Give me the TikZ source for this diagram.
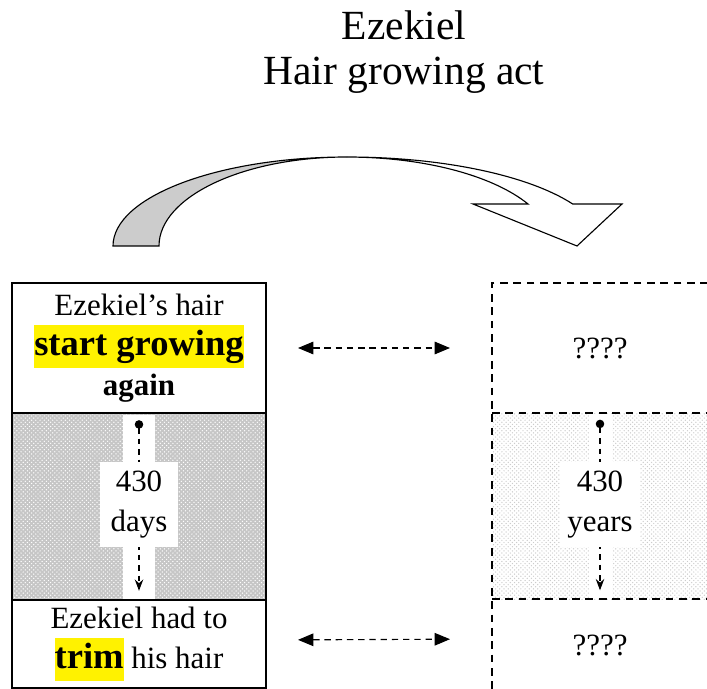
\documentclass[tikz,border=0pt]{standalone}
\usepackage{fontspec}
\setmainfont{Liberation Serif}
\usepackage{xcolor}
\usetikzlibrary{positioning,patterns,arrows.meta}

\newcommand{\hlword}[1]{{\setlength{\fboxsep}{0pt}\colorbox{yellow}{\fontsize{26}{31}\selectfont\bfseries\strut #1}}}

\begin{document}
\begin{tikzpicture}[font=\fontsize{22}{28.4}\selectfont, node distance=0pt]
\tikzset{
  box/.style={draw, thick, outer sep=0pt, minimum width=6.35cm, align=center},
  qbox/.style={outer sep=0pt, minimum width=5.4cm, align=center},
  qline/.style={thick, dash pattern=on 5.5pt off 4pt},
  strip/.style={fill=white, minimum width=#1, minimum height=4.6cm, inner sep=0pt},
  tag/.style={fill=white, align=center, inner sep=0pt, minimum height=2.125cm},
  span/.style={thick, dash pattern=on 4pt off 3.5pt, {Circle[length=6pt]}-{Stealth[length=8pt]}},
  link/.style={thick, dash pattern=on 4.5pt off 3.5pt, {Triangle[length=11pt,width=9pt]}-{Triangle[length=11pt,width=9pt]}},
}
\useasboundingbox (0,0) rectangle (17.675,17.2);

\node[font=\fontsize{29.5}{32}\selectfont, align=center] (title) at (10.1,15.9) {Ezekiel\\Hair growing act};

% curved arrow
\draw[thick, fill=gray!40] (2.825,11.05) arc[start angle=180, end angle=90, x radius=5.85cm, y radius=2.225cm]
  arc[start angle=90, end angle=180, x radius=4.7cm, y radius=2.225cm] -- cycle;
\draw[thick, fill=white] (8.675,13.275) arc[start angle=90, end angle=28.2, x radius=6.4cm, y radius=2.225cm]
  -- (15.55,12.1) -- (14.425,11.05) -- (11.825,12.1) -- (13.2,12.1)
  arc[start angle=28.2, end angle=90, x radius=5.125cm, y radius=2.225cm] -- cycle;

% Ezekiel column
\node[box, minimum height=3.25cm] (hairA) at (3.475,8.5) {Ezekiel’s hair\\\hlword{start growing}\\\textbf{again}};
\node[box, minimum height=4.675cm, below=of hairA, preaction={fill=gray!45}, pattern=crosshatch dots, pattern color=white] (daysL) {};
\node[box, minimum height=2.2cm, below=of daysL] (trimA) {Ezekiel had to\\\hlword{trim} his hair};

% unknown column
\node[qbox, minimum height=3.25cm] (unkA) at (15.0,8.5) {????};
\node[qbox, minimum height=4.65cm, below=of unkA, pattern=crosshatch dots, pattern color=gray!40] (yearsR) {};
\node[qbox, minimum height=2.3cm, below=of yearsR] (unkB) {????};
\draw[qline] (unkA.north east) -- (unkA.north west) -- (unkB.south west);
\draw[qline] (yearsR.north west) -- (yearsR.north east);
\draw[qline] (yearsR.south west) -- (yearsR.south east);

% durations
\node[strip=0.8cm] (stripL) at (daysL) {};
\draw[span] ([yshift=-0.15cm]stripL.north) -- ([yshift=0.2cm]stripL.south);
\node[tag, minimum width=1.95cm] (lblL) at ([yshift=0.04cm]daysL.center) {430\\days};

\node[strip=0.575cm] (stripR) at (yearsR) {};
\draw[span] ([yshift=-0.15cm]stripR.north) -- ([yshift=0.2cm]stripR.south);
\node[tag, minimum width=2cm] (lblR) at ([yshift=0.04cm]yearsR.center) {430\\years};

\draw[link, shorten <=0.8cm, shorten >=1.05cm] (hairA.east) -- (unkA.west);
\draw[link, shorten <=0.8cm, shorten >=1.05cm] ([yshift=0.1cm]trimA.east) -- ([yshift=0.15cm]unkB.west);
\end{tikzpicture}
\end{document}
